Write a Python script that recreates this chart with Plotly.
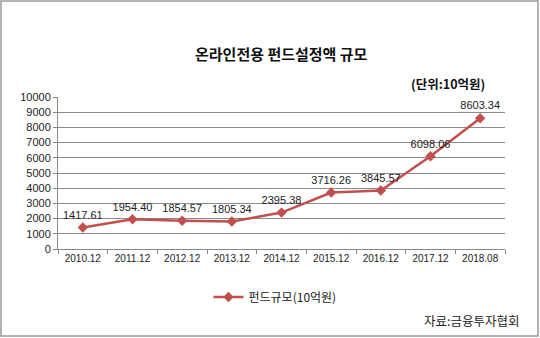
import plotly.graph_objects as go

categories = ["2010.12", "2011.12", "2012.12", "2013.12", "2014.12", "2015.12", "2016.12", "2017.12", "2018.08"]
values = [1417.61, 1954.40, 1854.57, 1805.34, 2395.38, 3716.26, 3845.57, 6098.06, 8603.34]
labels = ["1417.61", "1954.40", "1854.57", "1805.34", "2395.38", "3716.26", "3845.57", "6098.06", "8603.34"]
yticks = [0, 1000, 2000, 3000, 4000, 5000, 6000, 7000, 8000, 9000, 10000]
yticktext = [str(v) for v in yticks]

W, H = 540, 338
L, R, T, B = 58, 35, 97, 89
pw, ph = W - L - R, H - T - B

font = "Noto Sans CJK KR, Malgun Gothic, sans-serif"
numfont = "Liberation Sans, Arial, sans-serif"
red = "#C0504D"

fig = go.Figure()
fig.add_trace(go.Scatter(
    x=categories, y=values, mode="lines+markers+text",
    text=labels, textposition="top center",
    textfont=dict(size=11, color="#222", family=numfont),
    line=dict(color=red, width=2.5),
    marker=dict(symbol="diamond", size=8, color=red),
    name="펀드규모(10억원)", cliponaxis=False,
))

fig.update_layout(
    width=W, height=H,
    margin=dict(l=L, r=R, t=T, b=B),
    paper_bgcolor="white", plot_bgcolor="white",
    font=dict(family=font, size=10, color="#222"),
    showlegend=True,
    legend=dict(orientation="h", x=(275 - L) / pw, xanchor="center", y=-(297 - 249) / ph, yanchor="middle",
                font=dict(size=12, family=font, color="#222")),
    xaxis=dict(type="category", tickson="boundaries", ticks="outside", ticklen=4,
               tickcolor="#888", showline=True, linecolor="#888", linewidth=1,
               showgrid=False, tickfont=dict(size=10, family=numfont, color="#222"),
               range=[-0.5, len(categories) - 0.5]),
    yaxis=dict(range=[0, 10000], tickvals=yticks, ticktext=yticktext, ticks="outside", ticklen=4,
               tickcolor="#888", showline=True, linecolor="#888", linewidth=1,
               showgrid=True, gridcolor="#8a8a8a", gridwidth=1, zeroline=False,
               tickfont=dict(size=11, family=numfont, color="#222")),
)

fig.add_annotation(text="<b>온라인전용 펀드설정액 규모</b>", xref="paper", yref="paper",
                   x=(281 - L) / pw, y=(H - B - 54) / ph, xanchor="center", yanchor="middle",
                   showarrow=False, font=dict(size=15, family=font, color="#111"))
fig.add_annotation(text="<b>(단위:10억원)</b>", xref="paper", yref="paper",
                   x=(487 - L) / pw, y=(H - B - 83) / ph, xanchor="right", yanchor="middle",
                   showarrow=False, font=dict(size=12.5, family=font, color="#111"))
fig.add_annotation(text="자료:금융투자협회", xref="paper", yref="paper",
                   x=(521 - L) / pw, y=(H - B - 320) / ph, xanchor="right", yanchor="middle",
                   showarrow=False, font=dict(size=12.5, family=font, color="#222"))

fig.add_shape(type="rect", xref="paper", yref="paper",
              x0=-(L - 1) / pw, x1=(W - L - 2) / pw, y0=-(B - 2) / ph, y1=(H - B - 1) / ph,
              line=dict(color="#999", width=1.5), fillcolor="rgba(0,0,0,0)", layer="above")

fig.write_html("out.html")
